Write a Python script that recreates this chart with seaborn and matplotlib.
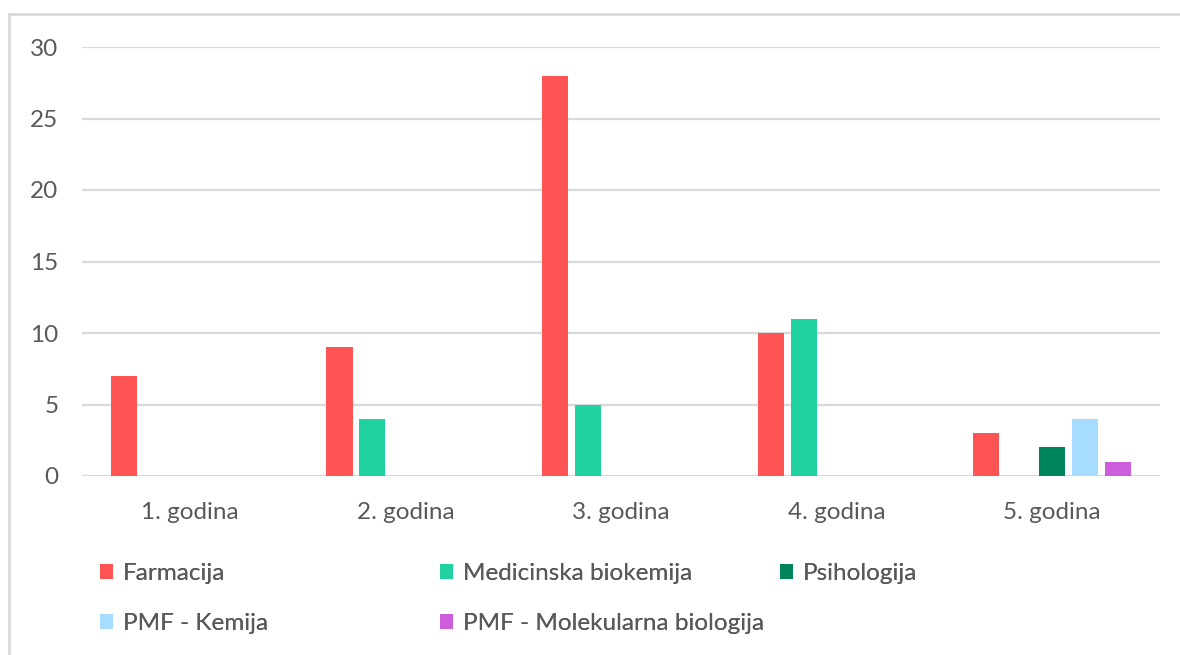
import matplotlib
matplotlib.use("Agg")
import matplotlib.pyplot as plt
import seaborn as sns
import pandas as pd
from matplotlib.lines import Line2D
from matplotlib.patches import Patch

categories = ["1. godina", "2. godina", "3. godina", "4. godina", "5. godina"]
series_names = ["Farmacija", "Medicinska biokemija", "Psihologija",
                "PMF - Kemija", "PMF - Molekularna biologija"]
farmacija = [7, 9, 28, 10, 3]
med_biokemija = [0, 4, 5, 11, 0]
psihologija = [0, 0, 0, 0, 2]
pmf_kemija = [0, 0, 0, 0, 4]
pmf_mol_bio = [0, 0, 0, 0, 1]
colors = ["#FF5454", "#20D2A0", "#00845C", "#A6DCFF", "#CC5EDC"]

values = [farmacija, med_biokemija, psihologija, pmf_kemija, pmf_mol_bio]
rows = []
for name, vals in zip(series_names, values):
    for cat, v in zip(categories, vals):
        rows.append({"godina": cat, "serija": name, "vrijednost": v})
df = pd.DataFrame(rows)

sns.set_theme(style="white")
plt.rcParams["font.family"] = ["Lato", "DejaVu Sans"]
FS = 17.5
TXT = "#595959"

fig = plt.figure(figsize=(11.8, 6.55), dpi=100)
ax = fig.add_axes([82 / 1180, 1 - 476 / 655, (1160 - 82) / 1180, (476 - 47) / 655])

sns.barplot(data=df, x="godina", y="vrijednost", hue="serija",
            hue_order=series_names, order=categories,
            palette=colors, saturation=1, width=0.764, gap=0.21, linewidth=0,
            ax=ax, legend=False, zorder=3)

ax.set_ylim(0, 30)
ax.set_xlim(-0.5, 4.5)
ax.set_yticks([0, 5, 10, 15, 20, 25, 30])
ax.yaxis.grid(True, color="#D9D9D9", linewidth=1.6, zorder=0)
ax.set_axisbelow(True)
for s in ax.spines.values():
    s.set_visible(False)
ax.set_xlabel("")
ax.set_ylabel("")
ax.tick_params(axis="both", length=0, labelsize=FS, colors=TXT)
ax.tick_params(axis="y", pad=17)
ax.tick_params(axis="x", pad=19)

# legend: three columns placed like the reference, filled row-wise
columns = [[0, 3], [1, 4], [2]]
col_x = [100, 440, 780]
for idxs, x in zip(columns, col_x):
    handles = [Patch(facecolor=colors[i], edgecolor="none") for i in idxs]
    labels = [series_names[i] for i in idxs]
    leg = fig.legend(handles, labels, loc="upper left",
                     bbox_to_anchor=(x / 1180, 1 - 563 / 655),
                     frameon=False, fontsize=FS, handlelength=0.55,
                     handleheight=0.55, handletextpad=0.4,
                     labelspacing=1.2, borderpad=0, borderaxespad=0)
    for t in leg.get_texts():
        t.set_color(TXT)
    fig.add_artist(leg)

# chart border (left and top)
fig.add_artist(Line2D([9 / 1180, 9 / 1180], [0, 1 - 14 / 655],
                      transform=fig.transFigure, color="#D9D9D9", linewidth=2))
fig.add_artist(Line2D([9 / 1180, 1], [1 - 14 / 655, 1 - 14 / 655],
                      transform=fig.transFigure, color="#D9D9D9", linewidth=2))

fig.savefig("out.png", dpi=100)
